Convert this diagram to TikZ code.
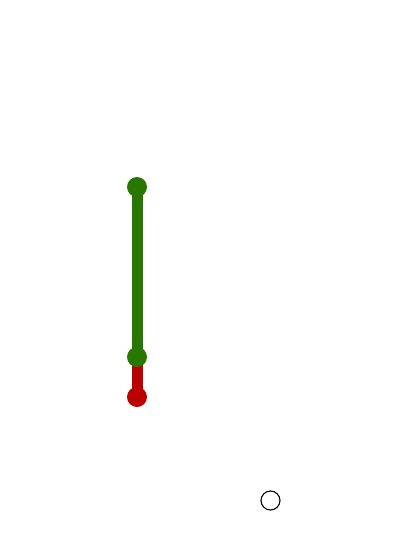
\documentclass[tikz,border=0pt]{standalone}
\definecolor{grn}{RGB}{40,120,0}
\definecolor{rd}{RGB}{187,0,0}
\begin{document}
\begin{tikzpicture}[x=1pt,y=-1pt,
  dot/.style={circle,inner sep=0pt,minimum size=20pt},
  bar/.style={line width=11pt}]
\useasboundingbox (0,0) rectangle (400,547);
\coordinate (top) at (137,187);
\coordinate (mid) at (137,357);
\coordinate (bot) at (137,397);
\draw[bar,rd] (mid) -- (bot);
\draw[bar,grn] (top) -- (mid);
\node[dot,fill=rd] (d3) at (bot) {};
\node[dot,fill=grn] (d1) at (top) {};
\node[dot,fill=grn] (d2) at (mid) {};
\node[circle,draw=black,line width=1.1pt,inner sep=0pt,minimum size=19pt] (c) at (270.5,500.5) {};
\end{tikzpicture}
\end{document}
